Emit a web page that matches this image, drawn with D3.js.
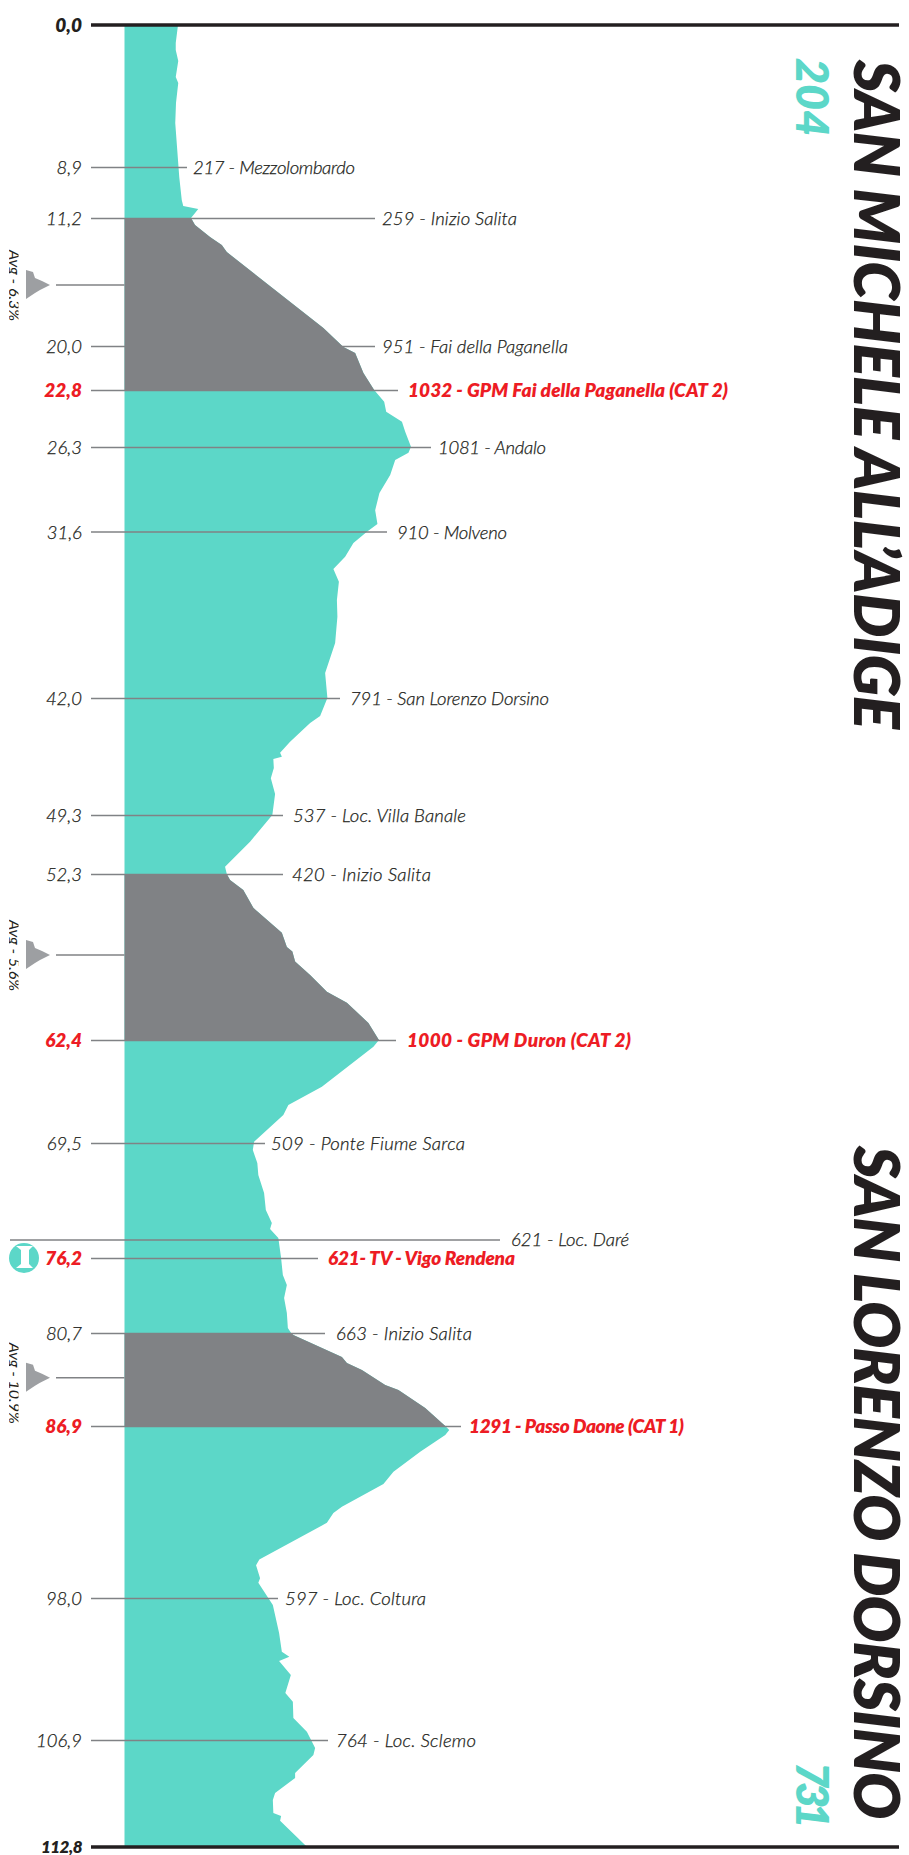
<!DOCTYPE html>
<html>
<head>
<meta charset="utf-8">
<script src="https://d3js.org/d3.v7.min.js"></script>
<style>
  body { margin: 0; background: #fff; }
  text { font-family: Lato, sans-serif; font-style: italic; }
  .plain { font-weight: 300; fill: #231f20; stroke: #231f20; stroke-width: 0.25px; font-size: 18.5px; }
  .hot { font-weight: 800; fill: #ed1c24; font-size: 19px; }
  .title { font-weight: 800; fill: #231f20; font-size: 62px; }
  .alt { font-weight: 800; fill: #5cd7c8; font-size: 45px; }
</style>
</head>
<body>
<svg id="chart"></svg>
<script>
var width = 909, height = 1855;

var teal = "#5cd7c8", grey = "#808285", dark = "#231f20", ruleGrey = "#808285";

// km reached by the profile, and the altitude there
var profileKm = [0,1.13,1.57,2.26,3.26,3.64,4.89,6.14,7.83,9.35,10.39,10.66,10.79,11.2,11.68,12.51,13.06,13.54,18.76,20.06,20.45,21.72,22.8,
  23.52,24.13,24.75,25.36,26.28,26.66,27.12,28.06,29.19,30.26,31.13,31.61,32.32,33.17,33.94,34.74,35.88,36.92,38.56,40.44,42,
  43.12,43.56,44.73,45.41,45.66,45.81,46.37,47,47.99,49.3,50.66,51.93,52.3,52.66,53.27,54.36,55.87,56.74,57.02,57.63,58.44,59.46,60.14,61.36,62.4,
  62.86,65.62,66.88,67.57,69.41,69.91,70.67,71.37,72.42,73.41,74.16,74.51,75.03,76.2,77.22,77.82,78.6,79.5,80.4,80.7,
  80.83,82.3,82.7,83.17,84.17,84.5,85.7,86.9,87.16,87.48,88.56,89.85,90.65,92.11,92.52,93.15,95.51,95.88,96.72,97.02,
  98.44,100.19,101.37,101.68,101.95,102.82,103.95,104.5,105.52,106.38,107.34,107.73,108.72,109,109.82,110.21,110.92,111.09,111.35,112.8];
var profileAlt = [204,195,195,205,195,205,196,193,201,209,219,225,285,256,272,332,379,399,785,865,912,945,988,
  1028,1036,1099,1112,1135,1125,1072,1052,1009,992,1001,959,905,872,825,847,839,841,832,792,801,
  772,732,652,612,619,585,587,575,592,581,492,392,399,412,465,505,619,639,661,672,732,799,879,965,1007,
  985,779,645,625,508,503,521,525,548,555,579,572,605,616,623,639,628,639,643,656,
  665,859,879,939,1032,1085,1192,1272,1288,1272,1172,1065,1025,859,825,799,529,516,532,525,
  583,608,619,649,608,655,633,663,665,719,752,745,672,672,592,583,585,616,612,720];

// ticks: km label, line end, text, text start and end
var tickKm = [8.9,11.2,20,22.8,26.3,31.6,42,49.3,52.3,62.4,69.5,76.2,80.7,86.9,98,106.9];
var tickLabels = ["8,9","11,2","20,0","22,8","26,3","31,6","42,0","49,3","52,3","62,4","69,5","76,2","80,7","86,9","98,0","106,9"];
var placeLabels = ["217 - Mezzolombardo","259 - Inizio Salita","951 - Fai della Paganella","1032 - GPM Fai della Paganella (CAT 2)",
  "1081 - Andalo","910 - Molveno","791 - San Lorenzo Dorsino","537 - Loc. Villa Banale","420 - Inizio Salita","1000 - GPM Duron (CAT 2)",
  "509 - Ponte Fiume Sarca","621- TV - Vigo Rendena","663 - Inizio Salita","1291 - Passo Daone (CAT 1)","597 - Loc. Coltura","764 - Loc. Sclemo"];
var hotKm = [22.8,62.4,76.2,86.9];
var lineEnd = [187,375,375,398,431,387,340,283,283,396,265,318,325,461,278,328];
var labelStart = [193,382,382,408,438,397,350,293,292,407,271,328,336,469,285,336];
var labelEnd = [355,517,568,728,546,507,549,466,431,631,465,515,472,684,426,476];

// the climbs, shaded grey, each with its gradient marker
var climbStart = [11.2,52.3,80.7];
var climbEnd = [22.8,62.4,86.9];
var climbMarkKm = [15.81,57.23,83.68];
var climbGradient = ["Avg - 6,3%","Avg - 5,6%","Avg - 10,9%"];

var y = d3.scaleLinear()
  .domain([0,8.9,11.2,20,22.8,26.3,31.6,42,49.3,52.3,62.4,69.5,76.2,80.7,86.9,98,106.9,112.8])
  .range([25,167,218,346,390,447,531.5,698,815,874,1040,1143,1258,1333,1426,1598,1740,1847]);
var x = d3.scaleLinear().domain([204,1291]).range([178,450]);
var baseX = 124.5;

var svg = d3.select("#chart").attr("width", width).attr("height", height)
  .style("display", "block");

var profile = profileKm.map(function(d, i){ return {km: d, alt: profileAlt[i]}; });
var area = d3.area()
  .x0(baseX)
  .x1(function(d){ return x(d.alt); })
  .y(function(d){ return y(d.km); });

//Teal profile first, the rules sit on it
svg.append("path").datum(profile).attr("d", area).style("fill", teal);

svg.selectAll(".rule").data(tickKm).enter().append("line")
  .attr("class", "rule")
  .attr("x1", 91).attr("x2", function(d, i){ return lineEnd[i]; })
  .attr("y1", function(d){ return y(d) + 0.5; }).attr("y2", function(d){ return y(d) + 0.5; })
  .style("stroke", ruleGrey).style("stroke-width", 1.5);

//Loc. Dare has its own long rule
var dareKm = 75.15;
svg.append("line").attr("x1", 10).attr("x2", 500)
  .attr("y1", y(dareKm)).attr("y2", y(dareKm))
  .style("stroke", ruleGrey).style("stroke-width", 1.5);
svg.append("text").attr("class", "plain").attr("x", 511).attr("y", y(dareKm) + 6).text("621 - Loc. Daré");

//Grey over the climbs, clipped out of the same profile
climbStart.forEach(function(d, i){
  var id = "climb" + i;
  svg.append("clipPath").attr("id", id).append("rect")
    .attr("x", 0).attr("width", width)
    .attr("y", y(d)).attr("height", y(climbEnd[i]) - y(d));
  svg.append("path").datum(profile).attr("d", area)
    .attr("clip-path", "url(#" + id + ")").style("fill", grey);
});

//Top and bottom bars
[0, 112.8].forEach(function(d){
  svg.append("line").attr("x1", 91).attr("x2", 899)
    .attr("y1", y(d)).attr("y2", y(d))
    .style("stroke", dark).style("stroke-width", 3.5);
});
svg.append("text").attr("x", 82).attr("y", y(0) + 7).attr("text-anchor", "end")
  .style("font-weight", 800).style("font-size", "19px").style("fill", dark).text("0,0");
svg.append("text").attr("x", 82).attr("y", y(112.8) + 6).attr("text-anchor", "end")
  .style("font-weight", 800).style("font-size", "17px").style("letter-spacing", "-0.5px").style("fill", dark).text("112,8");

//Labels
tickKm.forEach(function(d, i){
  var cls = hotKm.indexOf(d) >= 0 ? "hot" : "plain";
  svg.append("text").attr("class", cls).attr("x", 82).attr("y", y(d) + 7)
    .attr("text-anchor", "end").text(tickLabels[i]);
  svg.append("text").attr("class", cls).attr("x", labelStart[i]).attr("y", y(d) + 7)
    .attr("textLength", labelEnd[i] - labelStart[i]).text(placeLabels[i]);
});

//Gradient markers, the text is cropped on both sides in the original
svg.append("clipPath").attr("id", "gradientCrop").append("rect")
  .attr("x", 9).attr("y", 0).attr("width", 9.5).attr("height", height);

var markShape = [[0,-15],[7,-13],[9,-7],[16,-4],[24,0],[14,5],[9,8],[0,14]];
climbMarkKm.forEach(function(d, i){
  var g = svg.append("g").attr("transform", "translate(26," + y(d) + ")");
  g.append("polygon").attr("points", markShape.join(" ")).style("fill", "#9d9fa2");
  g.append("line").attr("x1", 30).attr("x2", baseX - 26).style("stroke", ruleGrey).style("stroke-width", 1.5);
  svg.append("g").attr("clip-path", "url(#gradientCrop)")
    .append("text").attr("transform", "translate(9," + (y(d) - 35) + ") rotate(90)")
    .style("font-size", "16px").style("font-weight", 400).style("fill", dark).text(climbGradient[i]);
});

//Intermediate sprint badge
var badge = svg.append("g").attr("transform", "translate(24," + y(76.2) + ")");
badge.append("circle").attr("r", 15).style("fill", teal);
badge.append("path").attr("d", "M-8,-12H9L5,-8V6L9,10H-8L-3,6V-8Z").style("fill", "#fff");

//Start and finish names, rotated down the right side
svg.append("text").attr("class", "title").attr("transform", "translate(854,60) rotate(90)")
  .style("letter-spacing", "-0.5px").text("SAN MICHELE ALL’ADIGE");
svg.append("text").attr("class", "title").attr("transform", "translate(854,1146) rotate(90)")
  .style("letter-spacing", "-0.85px").text("SAN LORENZO DORSINO");
svg.append("text").attr("class", "alt").attr("transform", "translate(796,58) rotate(90)").text("204");
svg.append("text").attr("class", "alt").attr("transform", "translate(796,1762) rotate(90)")
  .style("letter-spacing", "-6px").text("731");
</script>
</body>
</html>
